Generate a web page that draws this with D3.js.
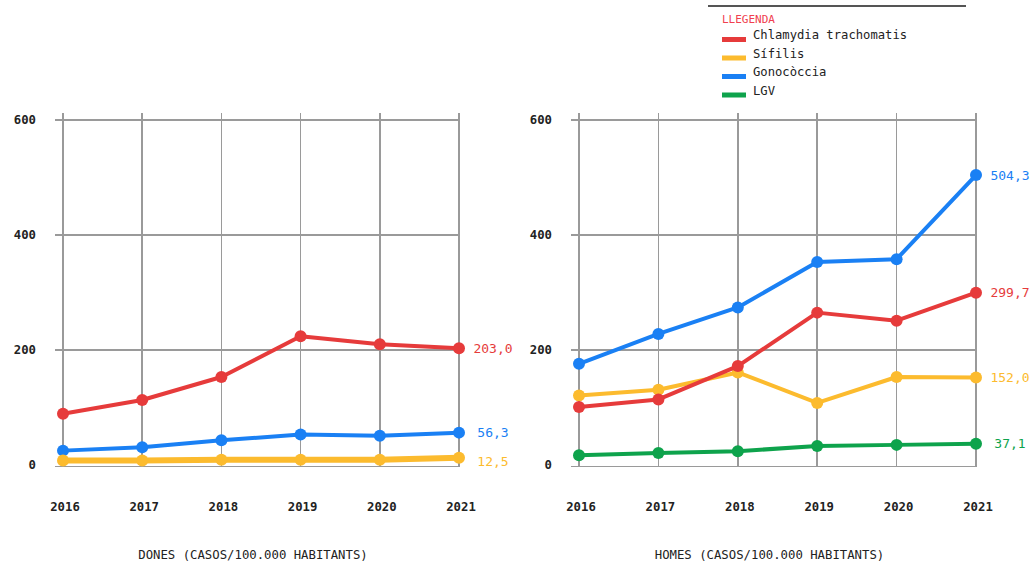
<!DOCTYPE html>
<meta charset="utf-8">
<head>
<script src="https://cdn.jsdelivr.net/npm/d3@7"></script>
<style>
  body { margin: 0; background: #fff; }
  svg text { font-family: "DejaVu Sans Mono", monospace; }
  .grid line { stroke: #9a9a9a; stroke-width: 1.5; shape-rendering: crispEdges; }
</style>
</head>
<body>
<script>
// anys i etiquetes
var years = [2016, 2017, 2018, 2019, 2020, 2021];
var yTicks = [0, 200, 400, 600];

// DONES
var donesChlamydia = [89, 113, 153, 224, 210, 203.0];
var donesSifilis   = [8, 8, 9, 9, 9, 12.5];
var donesGono      = [25, 31, 43, 53, 51, 56.3];

// HOMES
var homesChlamydia = [101, 114, 172, 265, 251, 299.7];
var homesSifilis   = [121, 131, 161, 108, 153, 152.0];
var homesGono      = [176, 228, 274, 353, 358, 504.3];
var homesLGV       = [17, 21, 24, 33, 35, 37.1];

var colors = { chl: "#e63b3b", sif: "#fcbb2e", gon: "#1a80f4", lgv: "#0ea34c" };
var legendNames = ["Chlamydia trachomatis", "Sífilis", "Gonocòccia", "LGV"];
var legendKeys = ["chl", "sif", "gon", "lgv"];

var W = 1036, H = 564;
var svg = d3.select("body").append("svg").attr("width", W).attr("height", H);

var fmt = function(v){ return d3.format(".1f")(v).replace(".", ","); };

function drawChart(x0, x1, title, series) {
  var xScale = d3.scalePoint().domain(years).range([x0, x1]);
  var yScale = d3.scaleLinear().domain([0, 600]).range([465, 120]);
  var g = svg.append("g");

  // reixeta
  var grid = g.append("g").attr("class", "grid");
  grid.selectAll("line.h").data(yTicks).enter().append("line")
    .attr("x1", x0 - 8).attr("x2", x1)
    .attr("y1", function(d){ return d === 0 ? 466.5 : yScale(d); })
    .attr("y2", function(d){ return d === 0 ? 466.5 : yScale(d); });
  grid.selectAll("line.v").data(years).enter().append("line")
    .attr("x1", function(d){ return xScale(d); })
    .attr("x2", function(d){ return xScale(d); })
    .attr("y1", 113).attr("y2", 466.5);

  // etiquetes eix y
  g.selectAll("text.yl").data(yTicks).enter().append("text")
    .attr("x", x0 - 27).attr("y", function(d){ return yScale(d); })
    .attr("dy", "0.35em").attr("text-anchor", "end")
    .attr("font-size", 12.3).attr("font-weight", "bold").attr("fill", "#222")
    .text(function(d){ return d; });

  // etiquetes eix x
  g.selectAll("text.xl").data(years).enter().append("text")
    .attr("x", function(d){ return xScale(d) + 2; }).attr("y", 507)
    .attr("dy", "0.35em").attr("text-anchor", "middle")
    .attr("font-size", 12.3).attr("font-weight", "bold").attr("fill", "#222")
    .text(function(d){ return d; });

  g.append("text")
    .attr("x", (x0 + x1) / 2 - 8).attr("y", 555).attr("dy", "0.35em")
    .attr("text-anchor", "middle").attr("font-size", 12.3).attr("fill", "#222")
    .text(title);

  var line = d3.line()
    .x(function(d, i){ return xScale(years[i]); })
    .y(function(d){ return yScale(d); });

  series.forEach(function(s) {
    g.append("path").datum(s.values)
      .attr("d", line).attr("fill", "none")
      .attr("stroke", colors[s.key]).attr("stroke-width", s.w || 4)
      .attr("stroke-linejoin", "round");
    g.selectAll(null).data(s.values).enter().append("circle")
      .attr("cx", function(d, i){ return xScale(years[i]); })
      .attr("cy", function(d){ return yScale(d); })
      .attr("r", 6).attr("fill", colors[s.key]);
    var last = s.values[s.values.length - 1];
    g.append("text")
      .attr("x", x1 + 34).attr("y", yScale(last) + (s.dy || 0)).attr("dy", "0.35em")
      .attr("text-anchor", "middle").attr("font-size", 13)
      .attr("fill", colors[s.key])
      .text(fmt(last));
  });
}

drawChart(63, 459, "DONES (CASOS/100.000 HABITANTS)", [
  { key: "gon", values: donesGono },
  { key: "sif", values: donesSifilis, dy: 4, w: 6 },
  { key: "chl", values: donesChlamydia }
]);

drawChart(579, 976, "HOMES (CASOS/100.000 HABITANTS)", [
  { key: "lgv", values: homesLGV },
  { key: "sif", values: homesSifilis },
  { key: "chl", values: homesChlamydia },
  { key: "gon", values: homesGono }
]);

// llegenda
var leg = svg.append("g");
leg.append("line").attr("x1", 708).attr("x2", 966).attr("y1", 6).attr("y2", 6)
  .attr("stroke", "#555").attr("stroke-width", 2);
leg.append("text").attr("x", 722).attr("y", 19).attr("dy", "0.35em")
  .attr("font-size", 11).attr("fill", "#f0404f").text("LLEGENDA");
var items = leg.selectAll("g.item").data(legendNames).enter().append("g")
  .attr("transform", function(d, i){ return "translate(722," + (37 + i * 18.5) + ")"; });
items.append("rect").attr("x", 0).attr("y", 0).attr("width", 24).attr("height", 5)
  .attr("fill", function(d, i){ return colors[legendKeys[i]]; });
items.append("text").attr("x", 31).attr("y", 0).attr("dy", "0.2em")
  .attr("font-size", 12.2).attr("fill", "#222")
  .text(function(d){ return d; });
</script>
</body>
